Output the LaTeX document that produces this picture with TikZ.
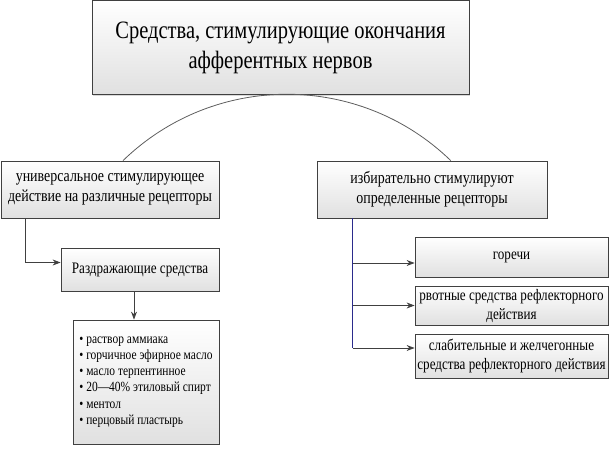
\documentclass[tikz,border=0pt]{standalone}
\usepackage{fontspec}
\setmainfont{Liberation Serif}[FakeStretch=0.82]
\usetikzlibrary{arrows.meta,shadows}
\definecolor{edge}{HTML}{404040}
\definecolor{trunk}{HTML}{2B2B8C}
\begin{document}
\begin{tikzpicture}[x=1pt, y=-1pt,
  main/.style = {draw=edge, line width=0.8pt, top color=white, bottom color=black!12,
    drop shadow={shadow xshift=1.2pt, shadow yshift=-1.2pt, opacity=0.3},
    align=center, inner sep=1pt},
  arr/.style = {draw=edge, line width=0.9pt, -{Stealth[length=8pt, width=6pt]}}]
\useasboundingbox (0,0) rectangle (611,448);

\node[main, minimum width=377pt, minimum height=94pt, font=\fontsize{25}{30}\selectfont] (1) at (280.5,47.5) {Средства, стимулирующие окончания\\афферентных нервов};
\node[main, minimum width=218pt, minimum height=57pt, font=\fontsize{17}{20}\selectfont] (2) at (110,189.5) {универсальное стимулирующее\\действие на различные рецепторы};
\node[main, minimum width=230pt, minimum height=57pt, font=\fontsize{17}{20}\selectfont] (3) at (432,189.5) {избирательно стимулируют\\определенные рецепторы};
\node[main, minimum width=158pt, minimum height=43pt, font=\fontsize{16}{19}\selectfont] (4) at (140,269.5) {Раздражающие средства};
\node[main, minimum width=146pt, minimum height=124pt, align=left, font=\fontsize{14}{16.2}\selectfont] (5) at (146,382) {• раствор аммиака\\• горчичное эфирное масло\\• масло терпентинное\\• 20---40\% этиловый спирт\\• ментол\\• перцовый пластырь};
\node[main, minimum width=193pt, minimum height=40pt, font=\fontsize{16}{19}\selectfont] (6) at (511.5,257) {горечи};
\node[main, minimum width=193pt, minimum height=39pt, font=\fontsize{16}{19}\selectfont] (7) at (511.5,305.5) {рвотные средства рефлекторного\\действия};
\node[main, minimum width=193pt, minimum height=44pt, font=\fontsize{16}{19}\selectfont] (8) at (511.5,356) {слабительные и желчегонные\\средства рефлекторного действия};

% arc from the title to the two groups
\draw[draw=edge!85, line width=0.8pt] ([xshift=13pt]2.north) arc[start angle=-134.1, end angle=-45.9, radius=235.5];

% left branch
\coordinate (L) at ([yshift=7pt]4.west);
\draw[arr] ([xshift=24.5pt]2.south west) |- (L);
\draw[arr] ([xshift=-6pt]4.south) -- ([xshift=-12pt]5.north);

% right branch
\coordinate (T) at ([xshift=36pt]3.south west);
\coordinate (g6) at ([yshift=-6pt]6.west);
\coordinate (g7) at (7.west);
\coordinate (g8) at ([yshift=8pt]8.west);
\draw[draw=trunk, line width=0.9pt] (T) -- (T |- g8);
\foreach \n in {6,7,8} \draw[arr] (T |- g\n) -- (g\n);
\end{tikzpicture}
\end{document}
